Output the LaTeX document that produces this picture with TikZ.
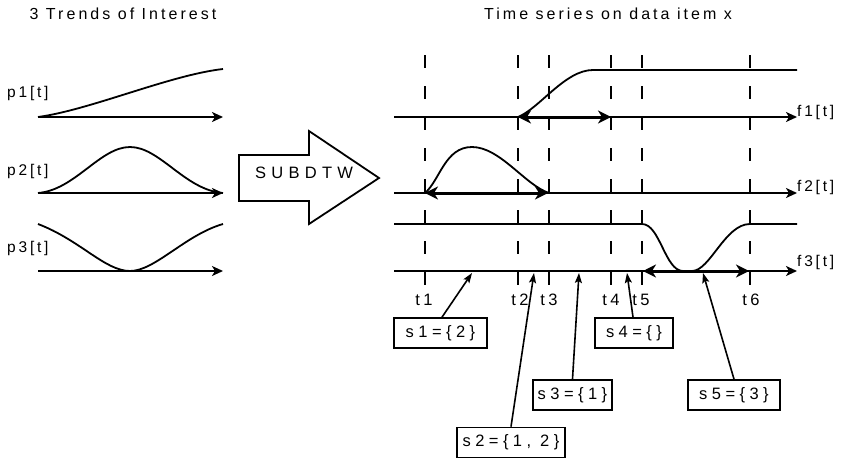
\documentclass[tikz,border=0pt]{standalone}
\usepackage{fontspec}
\setmainfont{Liberation Sans}
\newfontfamily\fTitle[LetterSpace=19]{Liberation Sans}
\newfontfamily\fBig[LetterSpace=32]{Liberation Sans}
\newfontfamily\fBox[LetterSpace=27]{Liberation Sans}
\newfontfamily\fTick[LetterSpace=20]{Liberation Sans}
\newfontfamily\fLab[LetterSpace=18]{Liberation Sans}
\usetikzlibrary{arrows.meta}
\tikzset{
  axisline/.style={line width=1.8pt,-{Stealth[length=11pt,width=10pt,inset=3pt]}},
  curveline/.style={line width=1.8pt},
  dblarrow/.style={line width=3pt,{Stealth[length=13pt,width=13pt,inset=4pt]}-{Stealth[length=13pt,width=13pt,inset=4pt]}},
  tickline/.style={line width=1.7pt,dash pattern=on 13pt off 18pt},
  ptrline/.style={line width=1.6pt,-{Stealth[length=10pt,width=7pt,inset=2pt]}},
  titletext/.style={anchor=base,inner sep=0pt,font=\fTitle\fontsize{16}{19}\selectfont},
  labtext/.style={anchor=base west,inner sep=0pt,font=\fLab\fontsize{15.5}{18}\selectfont},
  ticktext/.style={anchor=base,inner sep=0pt,font=\fTick\fontsize{16.5}{19}\selectfont},
  sbox/.style={draw,line width=1.7pt,minimum height=30pt,inner sep=0pt,font=\fBox\fontsize{16.5}{19}\selectfont},
}
\begin{document}
\begin{tikzpicture}[x=1pt,y=-1pt]
\useasboundingbox (0,0) rectangle (844,464);

% titles
\node[titletext] (title1) at (123,19) {3 Trends of Interest};
\node[titletext] (title2) at (608,19) {Time series on data item x};

% left side: trends
\node[labtext] (p1) at (7,97) {p1[t]};
\node[labtext] (p2) at (7,175) {p2[t]};
\node[labtext] (p3) at (7,252) {p3[t]};

\coordinate (la1) at (38,117); \coordinate (lb1) at (223,117);
\coordinate (la2) at (38,193); \coordinate (lb2) at (223,193);
\coordinate (la3) at (38,271); \coordinate (lb3) at (223,271);
\draw[axisline] (la1) -- (lb1);
\draw[axisline] (la2) -- (lb2);
\draw[axisline] (la3) -- (lb3);

\draw[curveline] (38,117) .. controls (90,110) and (170,75) .. (223,69);
\draw[curveline] (38,193) .. controls (75,190) and (100,147) .. (130,147)
                 .. controls (160,147) and (185,190) .. (223,193);
\draw[curveline] (38,224) .. controls (80,240) and (105,271) .. (130,271)
                 .. controls (155,271) and (185,235) .. (223,224);

% big arrow
\draw[line width=1.8pt] (239,155) -- (309,155) -- (309,131) -- (379,178)
      -- (309,224) -- (309,201) -- (239,201) -- cycle;
\node[anchor=base,inner sep=0pt,font=\fBig\fontsize{16.5}{19}\selectfont] (subdtw) at (304,178) {SUBDTW};

% right side: dashed time marks
\foreach \n/\x in {1/425,2/518,3/549,4/611,5/642,6/750}{
  \coordinate (tt\n) at (\x,55);
  \coordinate (tb\n) at (\x,285);
  \draw[tickline] (tt\n) -- (tb\n);
}

% axes
\coordinate (ra1) at (394,117); \coordinate (rb1) at (797,117);
\coordinate (ra2) at (394,193); \coordinate (rb2) at (797,193);
\coordinate (ra3) at (394,271); \coordinate (rb3) at (797,271);
\draw[axisline] (ra1) -- (rb1);
\draw[axisline] (ra2) -- (rb2);
\draw[axisline] (ra3) -- (rb3);

\node[labtext] (f1) at (797,116) {f1[t]};
\node[labtext] (f2) at (797,191) {f2[t]};
\node[labtext] (f3) at (797,266) {f3[t]};

% series curves
\draw[curveline] (518,117) .. controls (540,108) and (565,70) .. (593,70) -- (797,70);
\draw[curveline] (425,193) .. controls (440,180) and (445,147) .. (472,147)
                 .. controls (500,147) and (525,185) .. (549,193);
\draw[curveline] (394,224) -- (642,224) .. controls (660,224) and (665,271) .. (683,271)
                 -- (692,271) .. controls (710,271) and (725,224) .. (750,224) -- (797,224);

% matched intervals
\coordinate (m1a) at (518,117); \coordinate (m1b) at (611,117);
\coordinate (m2a) at (425,193); \coordinate (m2b) at (548,193);
\coordinate (m3a) at (643,271); \coordinate (m3b) at (749,271);
\draw[dblarrow] (m1a) -- (m1b);
\draw[dblarrow] (m2a) -- (m2b);
\draw[dblarrow] (m3a) -- (m3b);

% tick labels
\node[ticktext] (lt1) at (424,305) {t1};
\node[ticktext] (lt2) at (520,305) {t2};
\node[ticktext] (lt3) at (549,305) {t3};
\node[ticktext] (lt4) at (611,305) {t4};
\node[ticktext] (lt5) at (641,305) {t5};
\node[ticktext] (lt6) at (751,305) {t6};

% segment boxes
\node[sbox,minimum width=93pt] (s1) at (440.5,333) {s1=\{2\}};
\node[sbox,minimum width=108pt] (s2) at (511,442.5) {s2=\{1, 2\}};
\node[sbox,minimum width=79pt] (s3) at (572.5,395) {s3=\{1\}};
\node[sbox,minimum width=78pt] (s4) at (634,333) {s4=\{\}};
\node[sbox,minimum width=92pt] (s5) at (734,395) {s5=\{3\}};

\coordinate (e1) at (472,273);
\coordinate (e2) at (534,273);
\coordinate (e3) at (579,273);
\coordinate (e4) at (627,273);
\coordinate (e5) at (703,273);
\draw[ptrline] ([xshift=1.5pt]s1.north) -- (e1);
\draw[ptrline] (s2.north) -- (e2);
\draw[ptrline] (s3.north) -- (e3);
\draw[ptrline] ([xshift=-1pt]s4.north) -- (e4);
\draw[ptrline] (s5.north) -- (e5);
\end{tikzpicture}
\end{document}
